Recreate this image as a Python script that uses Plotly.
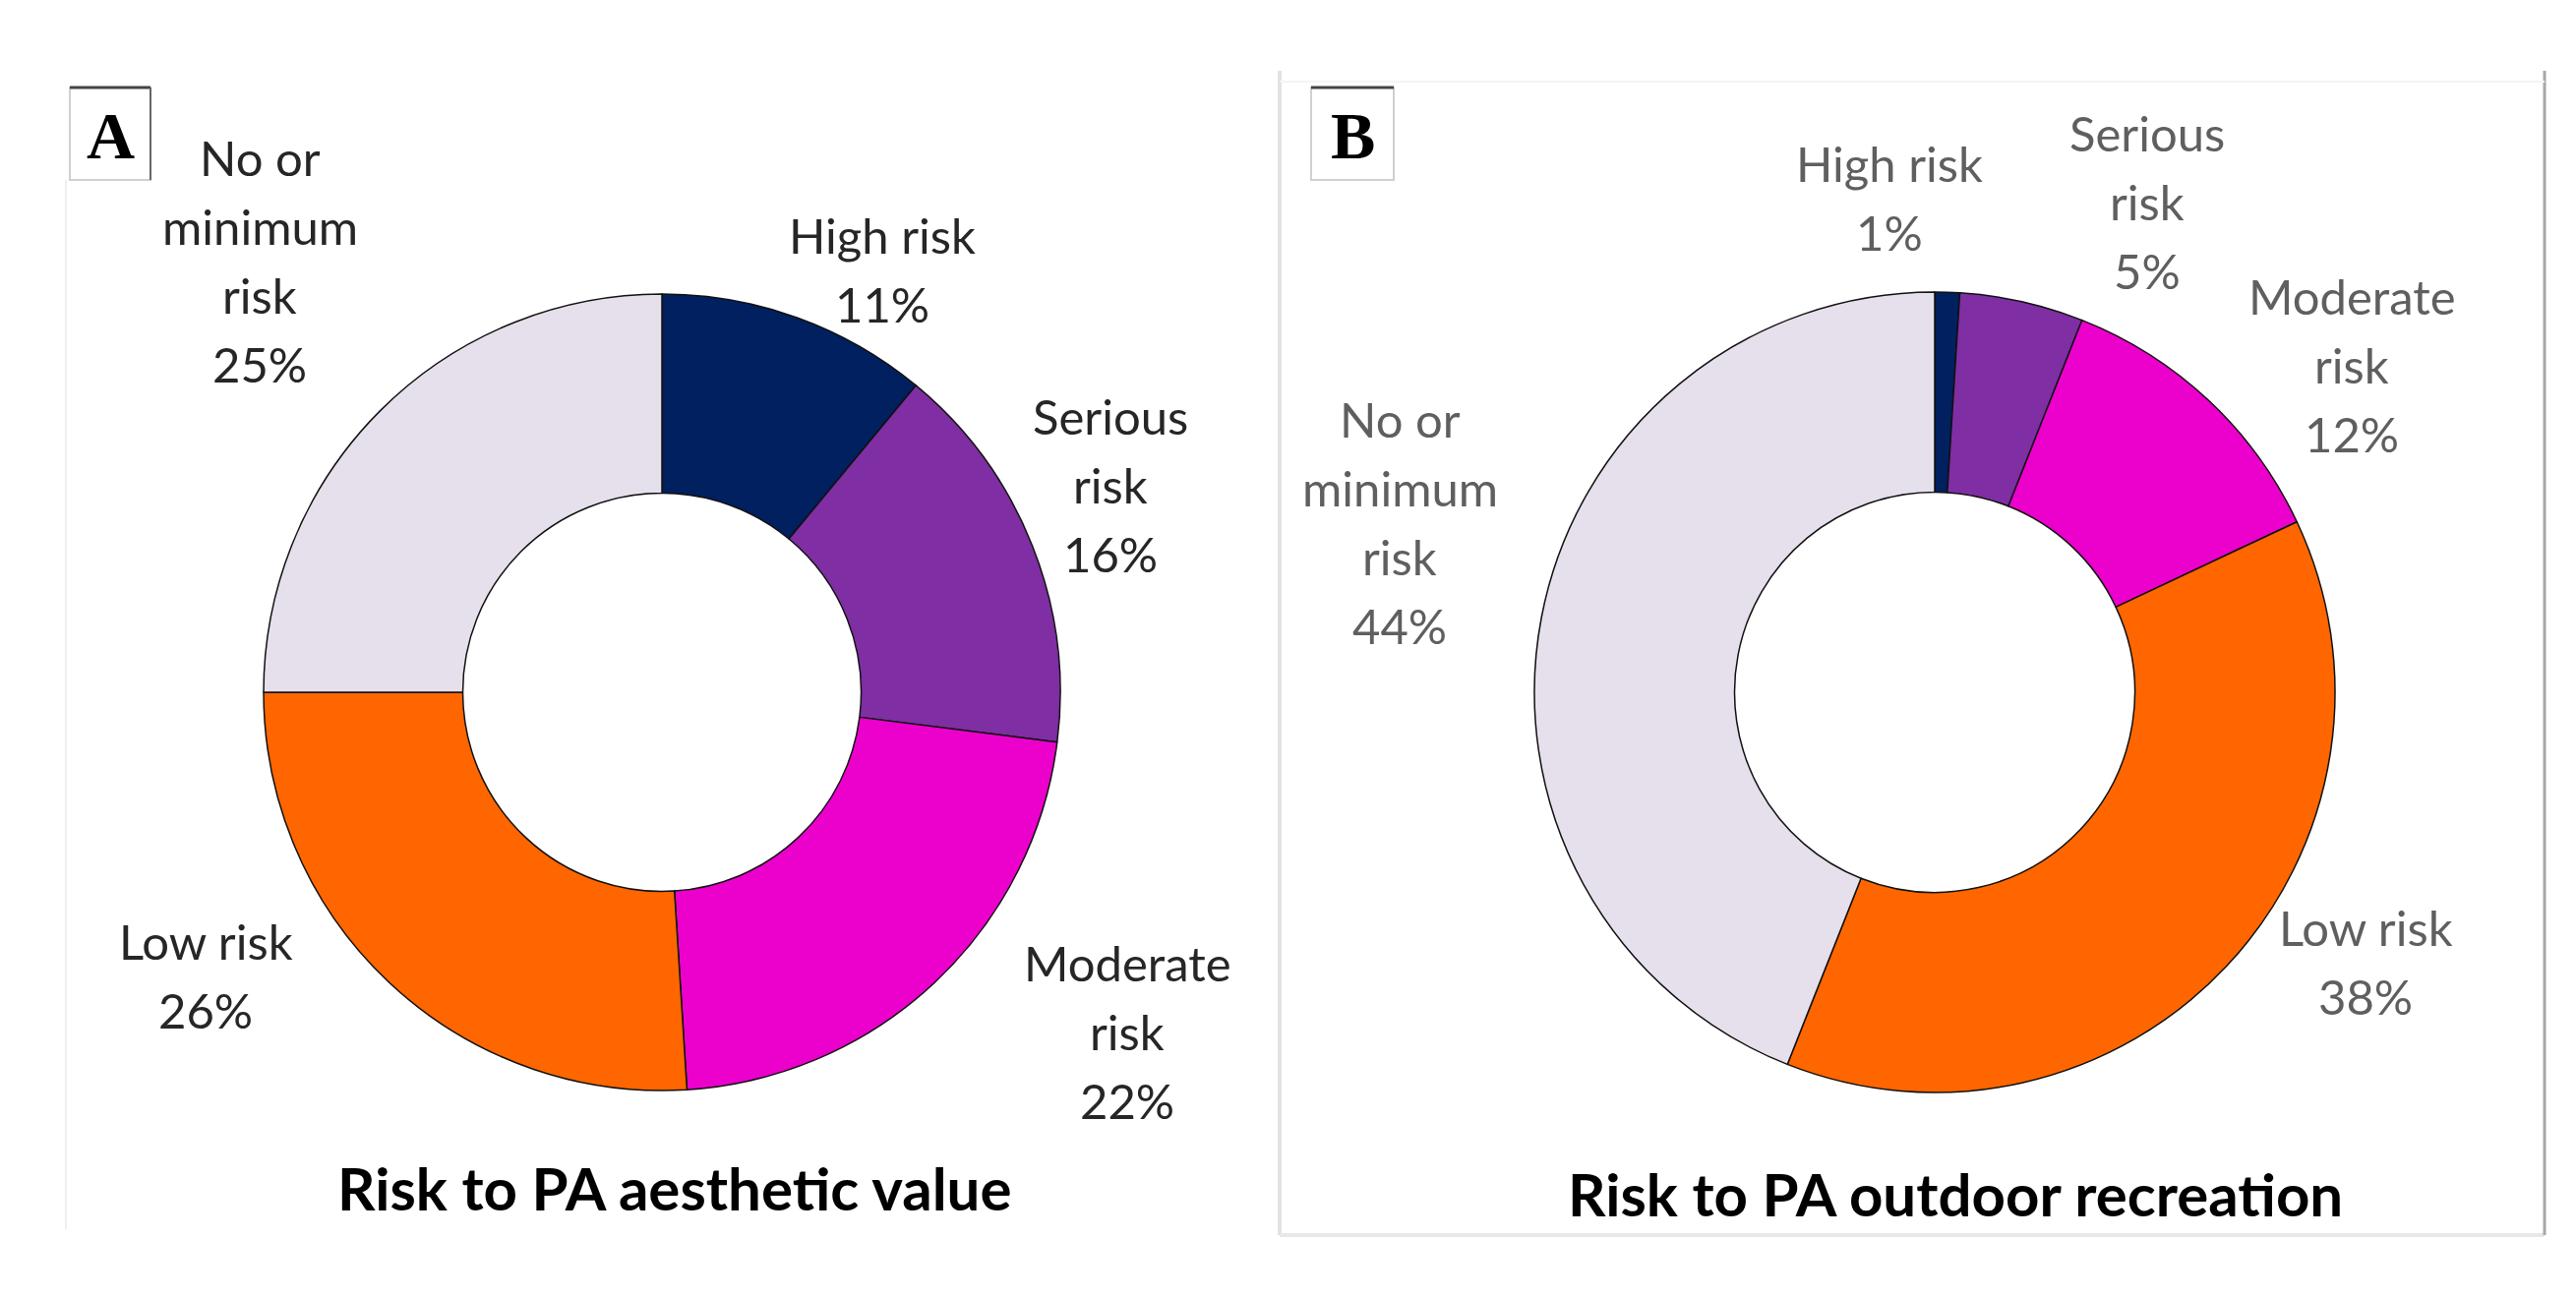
import plotly.graph_objects as go

W, H = 2619, 1319

# ---- data ----
categories = ["High risk", "Serious risk", "Moderate risk", "Low risk", "No or minimum risk"]
values_a = [11, 16, 22, 26, 25]
values_b = [1, 5, 12, 38, 44]
colors = ["#002060", "#7f2ea3", "#ec00cc", "#ff6600", "#e6e0ec"]
title_a = "Risk to PA aesthetic value"
title_b = "Risk to PA outdoor recreation"
panel_letters = ["A", "B"]

# label line breaks (how each category label is wrapped in each panel)
lines_a = [["High risk"], ["Serious", "risk"], ["Moderate", "risk"], ["Low risk"], ["No or", "minimum", "risk"]]
lines_b = [["High risk"], ["Serious", "risk"], ["Moderate", "risk"], ["Low risk"], ["No or", "minimum", "risk"]]

# label centres in pixels (layout)
pos_a = [(897, 274), (1129, 493), (1146, 1049), (209, 992), (264, 265)]
pos_b = [(1921, 201), (2183, 205), (2391, 371), (2405, 978), (1423, 531)]


def px(x):
    return x / W


def py(y):
    return 1 - y / H


def domain(cx, cy, r):
    return dict(x=[px(cx - r), px(cx + r)], y=[py(cy + r), py(cy - r)])


fig = go.Figure()
for vals, (cx, cy, r) in [(values_a, (673, 704, 405)), (values_b, (1967, 704, 407))]:
    fig.add_trace(go.Pie(
        labels=categories, values=vals, sort=False, direction="clockwise",
        rotation=0, hole=0.5, textinfo="none", hoverinfo="label+percent",
        marker=dict(colors=colors, line=dict(color="#111111", width=1.5)),
        domain=domain(cx, cy, r), showlegend=False,
    ))

annotations = []
LS = 70
for vals, lines, pos, col in [(values_a, lines_a, pos_a, "#262626"), (values_b, lines_b, pos_b, "#5f5f5f")]:
    for v, ls, (x, y) in zip(vals, lines, pos):
        all_lines = ls + [f"{v}%"]
        n = len(all_lines)
        for i, t in enumerate(all_lines):
            yy = y + (i - (n - 1) / 2) * LS
            annotations.append(dict(
                x=px(x), y=py(yy), xref="paper", yref="paper", text=t, showarrow=False,
                xanchor="center", yanchor="middle",
                font=dict(family="Lato, Carlito, sans-serif", size=49, color=col),
            ))

for t, (x, y) in [(title_a, (686, 1208)), (title_b, (1988, 1214))]:
    annotations.append(dict(
        x=px(x), y=py(y), xref="paper", yref="paper", text=f"<b>{t}</b>", showarrow=False,
        xanchor="center", yanchor="middle",
        font=dict(family="Lato, Carlito, sans-serif", size=60, color="#000000"),
    ))

shapes = []
# panel frames
shapes.append(dict(type="line", xref="paper", yref="paper", x0=px(67), x1=px(67), y0=py(183), y1=py(1250),
                   line=dict(color="#f0f0f0", width=2)))
shapes.append(dict(type="line", xref="paper", yref="paper", x0=px(1301), x1=px(1301), y0=py(72), y1=py(1256),
                   line=dict(color="#e2e2e2", width=4)))
shapes.append(dict(type="line", xref="paper", yref="paper", x0=px(1301), x1=px(2587), y0=py(1256), y1=py(1256),
                   line=dict(color="#e8e8e8", width=4)))
shapes.append(dict(type="line", xref="paper", yref="paper", x0=px(2587), x1=px(2587), y0=py(72), y1=py(1256),
                   line=dict(color="#a8a8a8", width=3)))
shapes.append(dict(type="line", xref="paper", yref="paper", x0=px(1301), x1=px(2587), y0=py(83), y1=py(83),
                   line=dict(color="#f4f4f4", width=2)))

# letter boxes
for letter, (x0, x1) in zip(panel_letters, [(71, 153), (1333, 1417)]):
    y0, y1 = 89, 183
    shapes.append(dict(type="rect", xref="paper", yref="paper", x0=px(x0), x1=px(x1), y0=py(y1), y1=py(y0),
                       line=dict(color="#d0d0d0", width=2), fillcolor="rgba(0,0,0,0)"))
    shapes.append(dict(type="line", xref="paper", yref="paper", x0=px(x0), x1=px(x1), y0=py(y0), y1=py(y0),
                       line=dict(color="#444444", width=3)))
    if letter == "A":
        shapes.append(dict(type="line", xref="paper", yref="paper", x0=px(x1), x1=px(x1), y0=py(y0), y1=py(y1),
                           line=dict(color="#666666", width=2)))
    annotations.append(dict(
        x=px((x0 + x1) / 2), y=py(138), xref="paper", yref="paper", text=f"<b>{letter}</b>", showarrow=False,
        xanchor="center", yanchor="middle",
        font=dict(family="Liberation Serif, DejaVu Serif, serif", size=68, color="#000000"),
    ))

fig.update_layout(
    width=W, height=H, margin=dict(l=0, r=0, t=0, b=0),
    paper_bgcolor="white", plot_bgcolor="white",
    annotations=annotations, shapes=shapes,
)

fig.write_html("out.html", config={"displayModeBar": False},
               post_script="document.body.style.margin='0';document.body.style.overflow='hidden';")
